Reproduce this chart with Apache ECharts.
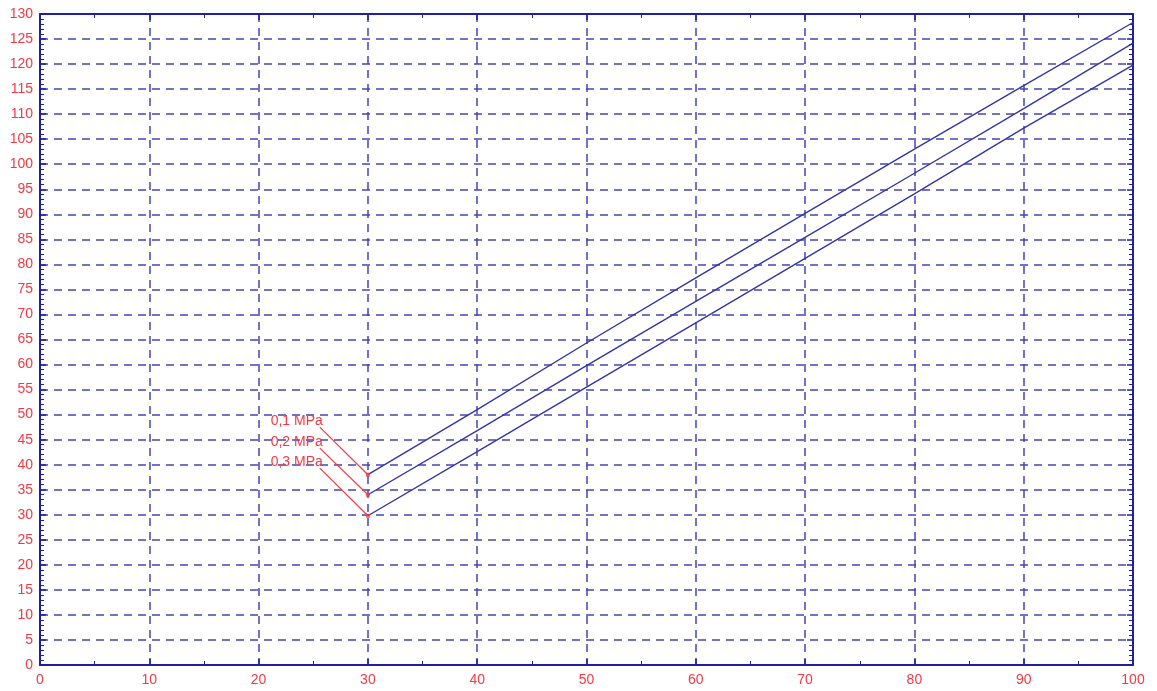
<!DOCTYPE html>
<html>
<head>
<meta charset="utf-8">
<script src="https://cdn.jsdelivr.net/npm/echarts@6/dist/echarts.min.js"></script>
<style>html,body{margin:0;padding:0;background:#fff}#c{width:1157px;height:691px}</style>
</head>
<body>
<div id="c"></div>
<script>
const xValues = [30, 40, 50, 60, 70, 80, 90, 100];
const line01 = [38.0, 51.0, 64.3, 77.3, 90.2, 103.0, 115.7, 128.3];
const line02 = [34.0, 46.8, 59.8, 72.6, 85.4, 98.2, 111.1, 124.2];
const line03 = [29.8, 42.6, 55.5, 68.3, 81.2, 94.1, 107.2, 119.8];
const labelNames = ['0,1 MPa', '0,2 MPa', '0,3 MPa'];
const leaderStarts = [[25.6, 47.5], [25.6, 43.3], [25.6, 39.3]];

const RED = '#f23a45';
const BLUE = '#3535a5';
const GRIDC = '#4646b4';
const FRAME = '#1f1fa0';
const FONT = 'Liberation Sans, Arial, sans-serif';

const curves = [line01, line02, line03];
const series = [];
curves.forEach(function (vals) {
  series.push({
    type: 'line', data: xValues.map(function (x, i) { return [x, vals[i]]; }),
    symbol: 'none', color: BLUE, lineStyle: { color: BLUE, width: 1.4 }, silent: true, z: 3
  });
});
curves.forEach(function (vals, k) {
  series.push({
    type: 'line', data: [leaderStarts[k], [xValues[0], vals[0]]],
    symbol: 'none', color: RED, lineStyle: { color: RED, width: 1.2 }, silent: true, z: 4
  });
});
series.push({
  type: 'scatter', symbol: 'rect', symbolSize: 4, color: RED, itemStyle: { color: RED },
  data: curves.map(function (vals) { return [xValues[0], vals[0]]; }), silent: true, z: 5
});
series.push({
  type: 'scatter', symbolSize: 0, color: RED, itemStyle: { color: RED },
  data: leaderStarts.map(function (p, k) { return { value: p, name: labelNames[k] }; }),
  label: { show: true, formatter: '{b}', position: 'left', distance: 0, offset: [3, -6],
    color: RED, opacity: 1, fontSize: 14, fontFamily: FONT },
  silent: true, z: 6
});

const axisLabelStyle = { color: RED, fontSize: 14, fontFamily: FONT };
const splitStyle = { show: true, lineStyle: { color: GRIDC, type: [8, 6], width: 1.5 } };
const frameLine = { show: true, onZero: false, lineStyle: { color: FRAME, width: 2 } };
const majTick = { show: true, inside: true, length: 6, lineStyle: { color: FRAME, width: 1.5 } };

const option = {
  animation: false,
  backgroundColor: '#ffffff',
  grid: { left: 40, right: 24, top: 14, bottom: 26 },
  xAxis: [
    { type: 'value', min: 0, max: 100, interval: 10, position: 'bottom',
      axisLine: frameLine, axisTick: majTick,
      minorTick: { show: true, splitNumber: 2, length: 4, lineStyle: { color: FRAME, width: 1 } },
      axisLabel: Object.assign({ margin: 8 }, axisLabelStyle),
      splitLine: splitStyle },
    { type: 'value', min: 0, max: 100, interval: 10, position: 'top',
      axisLine: frameLine, axisTick: majTick,
      minorTick: { show: true, splitNumber: 2, length: 4, lineStyle: { color: FRAME, width: 1 } },
      axisLabel: { show: false }, splitLine: { show: false } }
  ],
  yAxis: [
    { type: 'value', min: 0, max: 130, interval: 5, position: 'left',
      axisLine: frameLine, axisTick: majTick,
      minorTick: { show: true, splitNumber: 5, length: 4, lineStyle: { color: FRAME, width: 1 } },
      axisLabel: Object.assign({ margin: 7 }, axisLabelStyle),
      splitLine: splitStyle },
    { type: 'value', min: 0, max: 130, interval: 5, position: 'right',
      axisLine: frameLine, axisTick: majTick,
      minorTick: { show: true, splitNumber: 5, length: 4, lineStyle: { color: FRAME, width: 1 } },
      axisLabel: { show: false }, splitLine: { show: false } }
  ],
  series: series
};
echarts.init(document.getElementById('c'), null, { renderer: 'canvas' }).setOption(option);
</script>
</body>
</html>
